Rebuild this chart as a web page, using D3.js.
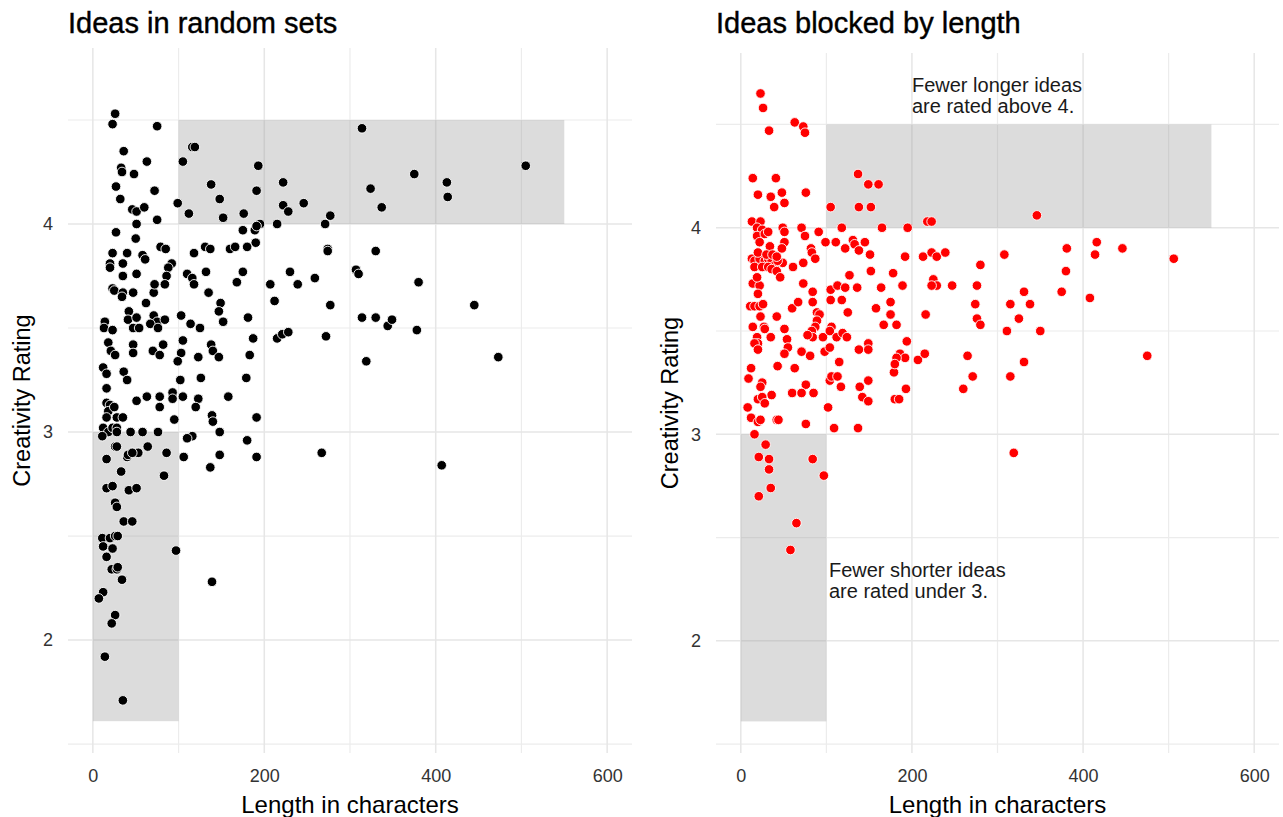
<!DOCTYPE html>
<html>
<head>
<meta charset="utf-8">
<script src="https://cdn.jsdelivr.net/npm/d3@7"></script>
<style>
body { margin: 0; background: #fff; }
text { font-family: "Liberation Sans", Arial, sans-serif; }
</style>
</head>
<body>
<svg id="chart"></svg>
<script>
var width = 1283;
var height = 817;

var xTicks = [0, 200, 400, 600];
var xMinor = [100, 300, 500];
var yTicks = [2, 3, 4];
var yMinor = [1.5, 2.5, 3.5, 4.5];
var xDomain = [-29, 629];
var yDomain = [1.457, 4.846];

// shaded zones: [xmin, xmax, ymin, ymax]
var zones = [[0, 100, 1.61, 3], [100, 550, 4, 4.5]];

// [length, rating]
var randomIdeas = [
  [26,4.53],[23,4.48],[75,4.47],[116,4.37],[119,4.37],[36,4.35],[63,4.30],[105,4.30],[193,4.28],[33,4.27],
  [34,4.25],[48,4.24],[138,4.19],[222,4.20],[27,4.18],[72,4.16],[191,4.16],[32,4.12],[148,4.12],[99,4.10],
  [246,4.10],[222,4.09],[228,4.06],[46,4.07],[51,4.06],[60,4.08],[112,4.05],[152,4.03],[176,4.05],[75,4.02],
  [271,4.00],[277,4.04],[215,4.00],[195,4.00],[51,4.00],[314,4.46],[505,4.28],[375,4.24],[324,4.17],[413,4.20],
  [414,4.13],[337,4.08],
  [27,3.96],[175,3.97],[189,3.97],[191,3.99],[50,3.93],[190,3.91],[180,3.89],[79,3.89],[85,3.88],[131,3.89],
  [137,3.88],[160,3.88],[166,3.89],[23,3.86],[40,3.86],[118,3.86],[58,3.85],[61,3.83],[274,3.88],[274,3.87],
  [330,3.87],[20,3.81],[20,3.79],[35,3.81],[92,3.81],[88,3.79],[51,3.76],[175,3.77],[132,3.77],[230,3.77],
  [307,3.78],[310,3.76],[35,3.75],[110,3.76],[116,3.74],[118,3.71],[86,3.75],[84,3.71],[168,3.72],[207,3.71],
  [239,3.71],[259,3.74],[380,3.72],[23,3.69],[25,3.68],[35,3.67],[34,3.65],[47,3.67],[71,3.67],[72,3.71],
  [135,3.67],[212,3.63],[62,3.62],[149,3.62],[147,3.58],[152,3.53],[277,3.61],[445,3.61],[42,3.58],[41,3.54],
  [51,3.55],[47,3.50],[54,3.50],[71,3.56],[75,3.53],[67,3.52],[84,3.54],[76,3.50],[103,3.56],[114,3.52],
  [125,3.50],[181,3.55],[14,3.53],[13,3.50],[23,3.49],[314,3.55],[330,3.55],[344,3.51],[349,3.54],[378,3.49],
  [187,3.45],[215,3.45],[221,3.47],[228,3.48],[272,3.46],[18,3.43],[21,3.39],[26,3.37],[47,3.42],[47,3.38],
  [70,3.39],[82,3.42],[78,3.37],[105,3.44],[103,3.38],[99,3.34],[123,3.36],[138,3.42],[140,3.39],[147,3.36],
  [183,3.37],[473,3.36],[319,3.34],[12,3.31],[16,3.28],[36,3.29],[40,3.25],[102,3.25],[126,3.26],[179,3.26],
  [16,3.21],[51,3.15],[63,3.17],[78,3.17],[93,3.19],[93,3.16],[105,3.17],[123,3.16],[120,3.12],[158,3.17],
  [78,3.12],[16,3.14],[20,3.13],[18,3.10],[25,3.12],[16,3.07],[28,3.07],[35,3.07],[95,3.06],[139,3.08],
  [140,3.05],[191,3.07],[12,3.02],[18,3.00],[23,3.02],[28,3.02],[11,2.98],[28,3.00],[44,3.00],[58,3.00],
  [76,3.00],[116,2.98],[110,2.97],[148,3.00],[180,2.96],
  [267,2.90],[86,2.90],[407,2.84],[26,2.93],[28,2.93],[64,2.93],[53,2.90],[16,2.87],[40,2.88],[41,2.89],
  [46,2.90],[106,2.88],[148,2.89],[191,2.88],[137,2.83],[33,2.81],[83,2.79],[16,2.73],[23,2.74],[42,2.72],
  [51,2.73],[26,2.66],[28,2.64],[36,2.57],[46,2.57],[11,2.49],[12,2.45],[20,2.49],[26,2.50],[29,2.50],
  [23,2.44],[16,2.40],[97,2.43],[22,2.34],[28,2.34],[29,2.35],[34,2.29],[139,2.28],[12,2.23],[7,2.20],
  [26,2.12],[22,2.08],[14,1.92],[35,1.71]
];

var blockedIdeas = [
  [23,4.65],[26,4.58],[33,4.47],[63,4.51],[73,4.49],[75,4.46],[14,4.24],[41,4.24],[137,4.26],[149,4.21],
  [161,4.21],[20,4.16],[35,4.15],[48,4.17],[51,4.12],[39,4.10],[76,4.17],[105,4.10],[138,4.10],[152,4.10],
  [346,4.06],
  [13,4.03],[23,4.03],[19,4.00],[25,3.99],[49,4.00],[51,3.98],[71,4.00],[91,3.98],[118,4.00],[165,4.00],
  [195,4.00],[218,4.03],[223,4.03],[75,3.96],[19,3.96],[28,3.97],[32,3.98],[22,3.93],[34,3.91],[51,3.93],
  [48,3.90],[99,3.93],[111,3.93],[122,3.90],[131,3.94],[133,3.92],[145,3.93],[151,3.87],[138,3.89],[82,3.90],
  [83,3.88],[87,3.85],[73,3.83],[61,3.81],[49,3.83],
  [13,3.85],[16,3.84],[22,3.85],[28,3.84],[32,3.85],[36,3.84],[40,3.82],[43,3.84],[16,3.81],[25,3.81],
  [32,3.81],[36,3.80],[42,3.79],[46,3.76],[20,3.88],[30,3.87],[37,3.87],[42,3.86],
  [192,3.86],[213,3.86],[223,3.88],[229,3.86],[239,3.88],[308,3.87],[381,3.90],[416,3.93],[414,3.87],[446,3.90],
  [506,3.85],[280,3.82],[380,3.79],
  [14,3.73],[22,3.72],[19,3.76],[73,3.73],[84,3.69],[84,3.64],[105,3.70],[105,3.65],[113,3.72],[122,3.71],
  [127,3.77],[136,3.71],[152,3.79],[164,3.71],[178,3.78],[189,3.72],[225,3.75],[229,3.72],[223,3.72],[247,3.72],
  [276,3.72],[331,3.69],[375,3.69],[118,3.65],[125,3.59],[158,3.61],[20,3.68],[11,3.62],[16,3.62],[22,3.62],
  [26,3.63],[23,3.57],[42,3.57],[60,3.61],[67,3.64],[175,3.64],[175,3.58],[216,3.58],[274,3.63],[315,3.63],
  [338,3.63],[408,3.66],[89,3.59],[92,3.58],[89,3.55],[87,3.52],[83,3.50],[84,3.47],[78,3.48],[167,3.53],
  [182,3.53],[276,3.56],[280,3.53],[325,3.56],[27,3.52],[28,3.51],[14,3.52],[51,3.51],[19,3.47],[20,3.44],
  [35,3.47],[54,3.46],[96,3.47],[106,3.52],[104,3.50],[112,3.47],[119,3.49],[124,3.47],[311,3.50],[350,3.50],
  [138,3.41],[149,3.44],[149,3.41],[55,3.42],[51,3.39],[71,3.40],[81,3.38],[98,3.40],[104,3.42],[16,3.44],
  [20,3.41],[115,3.35],[194,3.45],[186,3.39],[192,3.37],[182,3.37],[207,3.36],[215,3.39],[265,3.38],[475,3.38],
  [331,3.35],
  [12,3.32],[43,3.33],[63,3.32],[179,3.30],[180,3.34],[9,3.27],[25,3.25],[23,3.23],[76,3.24],[104,3.26],
  [106,3.28],[113,3.28],[117,3.23],[149,3.26],[139,3.23],[142,3.18],[149,3.16],[36,3.19],[60,3.20],[71,3.20],
  [85,3.20],[20,3.17],[25,3.18],[28,3.15],[180,3.17],[185,3.17],[193,3.22],[260,3.22],[271,3.28],[315,3.28],
  [8,3.13],[102,3.13],[12,3.08],[20,3.06],[23,3.07],[42,3.07],[44,3.07],[76,3.05],[109,3.03],[137,3.03],
  [16,3.00],[319,2.91],
  [29,2.95],[21,2.89],[33,2.88],[33,2.83],[84,2.88],[97,2.80],[35,2.74],[21,2.70],[65,2.57],[58,2.44]
];

var notesBlocked = [
  {x: 200, y: 4.655, lines: ["Fewer longer ideas", "are rated above 4."]},
  {x: 103, y: 2.31, lines: ["Fewer shorter ideas", "are rated under 3."]}
];

var panels = [
  {title: "Ideas in random sets", points: randomIdeas, fill: "#000000", left: 68, right: 632, top: 48, notes: []},
  {title: "Ideas blocked by length", points: blockedIdeas, fill: "#ff0000", left: 716, right: 1279, top: 53, notes: notesBlocked}
];
var bottom = 753;

var svg = d3.select("#chart")
    .attr("width", width)
    .attr("height", height);

svg.append("rect").attr("width", width).attr("height", height).attr("fill", "#fff");

panels.forEach(function(p) {
  var xscale = d3.scaleLinear().domain(xDomain).range([p.left, p.right]);
  var yscale = d3.scaleLinear().domain(yDomain).range([bottom, p.top]);
  var g = svg.append("g");

  // grid: minor first, then major
  g.selectAll(".vmin").data(xMinor).enter().append("line")
      .attr("x1", xscale).attr("x2", xscale)
      .attr("y1", bottom).attr("y2", p.top)
      .attr("stroke", "#ececec").attr("stroke-width", 1.2);
  g.selectAll(".hmin").data(yMinor).enter().append("line")
      .attr("y1", yscale).attr("y2", yscale)
      .attr("x1", p.left).attr("x2", p.right)
      .attr("stroke", "#ececec").attr("stroke-width", 1.2);
  g.selectAll(".vmaj").data(xTicks).enter().append("line")
      .attr("x1", xscale).attr("x2", xscale)
      .attr("y1", bottom).attr("y2", p.top)
      .attr("stroke", "#e6e6e6").attr("stroke-width", 1.5);
  g.selectAll(".hmaj").data(yTicks).enter().append("line")
      .attr("y1", yscale).attr("y2", yscale)
      .attr("x1", p.left).attr("x2", p.right)
      .attr("stroke", "#e6e6e6").attr("stroke-width", 1.5);

  // shaded zones
  g.selectAll(".zone").data(zones).enter().append("rect")
      .attr("x", function(d) { return xscale(d[0]); })
      .attr("width", function(d) { return xscale(d[1]) - xscale(d[0]); })
      .attr("y", function(d) { return yscale(d[3]); })
      .attr("height", function(d) { return yscale(d[2]) - yscale(d[3]); })
      .attr("fill", "#9a9a9a").attr("fill-opacity", 0.35);

  // axes (labels only)
  var xaxis = g.append("g")
      .attr("transform", "translate(0," + bottom + ")")
      .call(d3.axisBottom(xscale).tickValues(xTicks).tickSize(0).tickPadding(16));
  var yaxis = g.append("g")
      .attr("transform", "translate(" + p.left + ",0)")
      .call(d3.axisLeft(yscale).tickValues(yTicks).tickFormat(d3.format("d")).tickSize(0).tickPadding(15));
  [xaxis, yaxis].forEach(function(a) {
    a.select(".domain").remove();
    a.selectAll("text")
        .attr("font-family", "'Liberation Sans', Arial, sans-serif")
        .attr("font-size", 18)
        .attr("fill", "#333");
  });

  // points
  g.selectAll(".dot").data(p.points).enter().append("circle")
      .attr("cx", function(d) { return xscale(d[0]); })
      .attr("cy", function(d) { return yscale(d[1]); })
      .attr("r", 4.8)
      .attr("fill", p.fill)
      .attr("stroke", "#ffffff")
      .attr("stroke-width", 0.9);

  // notes
  p.notes.forEach(function(n) {
    var t = g.append("text")
        .attr("x", xscale(n.x))
        .attr("y", yscale(n.y))
        .attr("font-size", 20)
        .attr("fill", "#1a1a1a");
    n.lines.forEach(function(line, i) {
      t.append("tspan").attr("x", xscale(n.x)).attr("dy", i === 0 ? 0 : 21).text(line);
    });
  });

  // titles
  g.append("text")
      .attr("x", p.left).attr("y", 33)
      .attr("font-size", 29)
      .attr("fill", "#000")
      .attr("stroke", "#000")
      .attr("stroke-width", 0.4)
      .text(p.title);
  g.append("text")
      .attr("x", (p.left + p.right) / 2).attr("y", 813)
      .attr("text-anchor", "middle")
      .attr("font-size", 24)
      .attr("fill", "#000")
      .text("Length in characters");
  g.append("text")
      .attr("transform", "translate(" + (p.left - 38) + "," + ((bottom + p.top) / 2) + ") rotate(-90)")
      .attr("text-anchor", "middle")
      .attr("font-size", 23.5)
      .attr("fill", "#000")
      .text("Creativity Rating");
});
</script>
</body>
</html>
